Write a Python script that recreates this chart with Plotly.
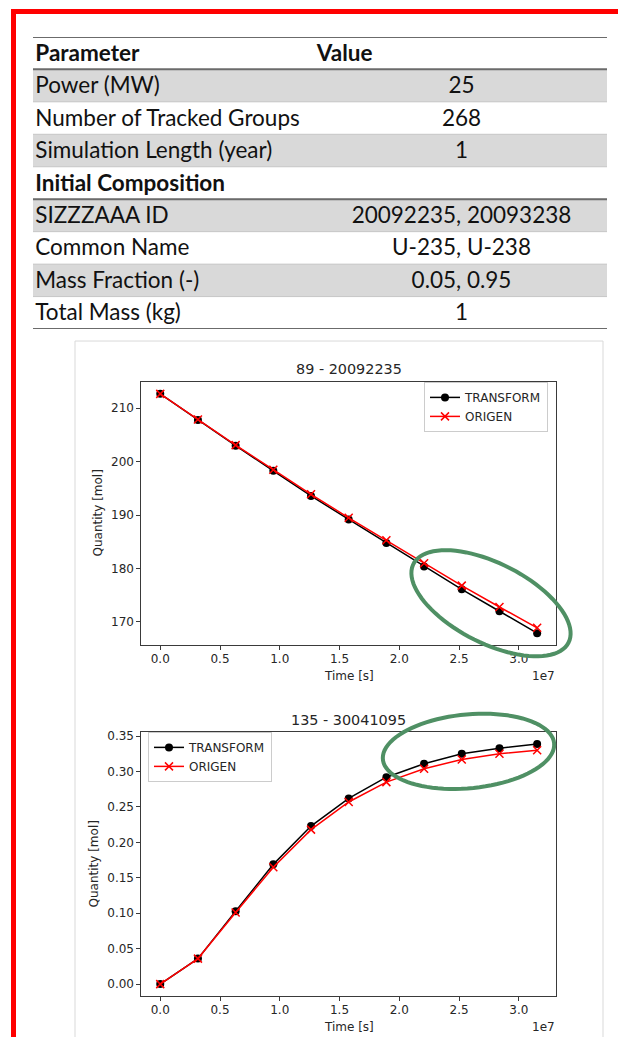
import numpy as np
import plotly.graph_objects as go

W, H = 618, 1037

# ---------------- data ----------------
table_header = ["Parameter", "Value"]
param_names = ["Power (MW)", "Number of Tracked Groups", "Simulation Length (year)",
               "Initial Composition", "SIZZZAAA ID", "Common Name",
               "Mass Fraction (-)", "Total Mass (kg)"]
param_values = ["25", "268", "1", "", "20092235, 20093238", "U-235, U-238",
                "0.05, 0.95", "1"]
row_bold = [False, False, False, True, False, False, False, False]
row_shaded = [True, False, True, False, True, False, True, False]

time_s = [0, 3153600, 6307200, 9460800, 12614400, 15768000, 18921600,
          22075200, 25228800, 28382400, 31536000]

title_1 = "89 - 20092235"
u235_transform = [212.7, 207.8, 203.0, 198.3, 193.6, 189.2, 184.8, 180.4, 176.1, 172.0, 167.9]
u235_origen = [212.7, 207.9, 203.1, 198.5, 193.9, 189.5, 185.3, 181.0, 176.8, 172.8, 168.9]

title_2 = "135 - 30041095"
nuc_transform = [0.0, 0.036, 0.103, 0.169, 0.223, 0.262, 0.292, 0.311, 0.325, 0.333, 0.339]
nuc_origen = [0.0, 0.036, 0.101, 0.165, 0.218, 0.257, 0.285, 0.304, 0.317, 0.325, 0.330]

x_tick_vals = [0, 0.5e7, 1.0e7, 1.5e7, 2.0e7, 2.5e7, 3.0e7]
x_tick_text = ["0.0", "0.5", "1.0", "1.5", "2.0", "2.5", "3.0"]
y1_tick_vals = [170, 180, 190, 200, 210]
y2_tick_vals = [0.0, 0.05, 0.10, 0.15, 0.20, 0.25, 0.30, 0.35]

series_names = ["TRANSFORM", "ORIGEN"]


# ---------------- helpers ----------------
def px(x):
    return x / W


def py(y):
    return 1 - y / H


def padded(vals, frac=0.05):
    lo, hi = min(vals), max(vals)
    span = hi - lo
    return [lo - frac * span, hi + frac * span]


MPL_FONT = "DejaVu Sans"
MPL_SIZE = 12
TXT = "#262626"
TABLE_FONT = "Lato"
TABLE_SIZE = 22.5
TEXT_DROP = 0.06  # vertical nudge of table text within a row (row units)

fig = go.Figure()

# ---------------- table (as bars + text on its own axes) ----------------
n_rows = len(param_names) + 1
row_idx = list(range(1, n_rows))
fig.add_trace(go.Bar(
    x=[1] * len(param_names), y=row_idx, orientation="h", base=0, width=1,
    marker=dict(color=["#d9d9d9" if s else "#ffffff" for s in row_shaded], line=dict(width=0)),
    xaxis="x3", yaxis="y3", showlegend=False, hoverinfo="skip"))

name_texts = [f"<b>{n}</b>" if b else n for n, b in zip(param_names, row_bold)]
fig.add_trace(go.Scatter(
    x=[0.004] * (n_rows), y=[r + TEXT_DROP for r in [0] + row_idx], mode="text",
    text=[f"<b>{table_header[0]}</b>"] + name_texts, textposition="middle right",
    textfont=dict(family=TABLE_FONT, size=TABLE_SIZE, color="#111111"),
    xaxis="x3", yaxis="y3", showlegend=False, hoverinfo="skip"))
fig.add_trace(go.Scatter(
    x=[0.4945], y=[0 + TEXT_DROP], mode="text", text=[f"<b>{table_header[1]}</b>"],
    textposition="middle right",
    textfont=dict(family=TABLE_FONT, size=TABLE_SIZE, color="#111111"),
    xaxis="x3", yaxis="y3", showlegend=False, hoverinfo="skip"))
fig.add_trace(go.Scatter(
    x=[0.7465] * len(param_values), y=[r + TEXT_DROP for r in row_idx], mode="text",
    text=param_values, textposition="middle center",
    textfont=dict(family=TABLE_FONT, size=TABLE_SIZE, color="#111111"),
    xaxis="x3", yaxis="y3", showlegend=False, hoverinfo="skip"))

# ---------------- charts ----------------
black_line = dict(color="black", width=1.5)
black_mark = dict(symbol="circle", size=8, color="black")
red_line = dict(color="#ff0000", width=1.5)
red_mark = dict(symbol="x-thin", size=8, color="#ff0000", line=dict(width=1.5, color="#ff0000"))

fig.add_trace(go.Scatter(x=time_s, y=u235_transform, name=series_names[0], mode="lines+markers",
                         line=black_line, marker=black_mark, xaxis="x", yaxis="y", legend="legend"))
fig.add_trace(go.Scatter(x=time_s, y=u235_origen, name=series_names[1], mode="lines+markers",
                         line=red_line, marker=red_mark, xaxis="x", yaxis="y", legend="legend"))
fig.add_trace(go.Scatter(x=time_s, y=nuc_transform, name=series_names[0], mode="lines+markers",
                         line=black_line, marker=black_mark, xaxis="x2", yaxis="y2", legend="legend2"))
fig.add_trace(go.Scatter(x=time_s, y=nuc_origen, name=series_names[1], mode="lines+markers",
                         line=red_line, marker=red_mark, xaxis="x2", yaxis="y2", legend="legend2"))

ax_common = dict(showline=True, linecolor="#3a3a3a", linewidth=1, mirror=True,
                 ticks="outside", ticklen=4, tickwidth=1, tickcolor="#3a3a3a",
                 showgrid=False, zeroline=False,
                 tickfont=dict(family=MPL_FONT, size=MPL_SIZE, color=TXT))
x_dom = [px(141.4), px(556)]
x_rng = padded(time_s)

layout = dict(
    width=W, height=H, autosize=False,
    margin=dict(l=0, r=0, t=0, b=0),
    paper_bgcolor="white", plot_bgcolor="white",
    bargap=0,
    xaxis=dict(domain=x_dom, anchor="y", range=x_rng, tickvals=x_tick_vals,
               ticktext=x_tick_text, ticklabelstandoff=-2, **ax_common),
    yaxis=dict(domain=[py(644), py(380)], anchor="x",
               range=padded(u235_transform + u235_origen), tickvals=y1_tick_vals, **ax_common),
    xaxis2=dict(domain=x_dom, anchor="y2", range=x_rng, tickvals=x_tick_vals,
                ticktext=x_tick_text, ticklabelstandoff=-2, **ax_common),
    yaxis2=dict(domain=[py(996), py(731)], anchor="x2",
                range=padded(nuc_transform + nuc_origen), tickvals=y2_tick_vals,
                tickformat=".2f", **ax_common),
    xaxis3=dict(domain=[px(33), px(607)], anchor="y3", range=[0, 1], visible=False,
                fixedrange=True),
    yaxis3=dict(domain=[py(327), py(34)], anchor="x3", range=[n_rows - 0.5, -0.5],
                visible=False, fixedrange=True),
    legend=dict(x=px(548), xanchor="right", y=py(380), yanchor="top",
                bgcolor="rgba(255,255,255,0.8)", bordercolor="#cccccc", borderwidth=1,
                font=dict(family=MPL_FONT, size=12, color=TXT), tracegroupgap=0),
    legend2=dict(x=px(148), xanchor="left", y=py(731), yanchor="top",
                 bgcolor="rgba(255,255,255,0.8)", bordercolor="#cccccc", borderwidth=1,
                 font=dict(family=MPL_FONT, size=12, color=TXT), tracegroupgap=0),
)
fig.update_layout(**layout)

# ---------------- annotations ----------------
ann = []
cx = (141.4 + 556) / 2
for ttl, ty in [(title_1, 367), (title_2, 719)]:
    ann.append(dict(text=ttl, x=px(cx), y=py(ty), xref="paper", yref="paper",
                    showarrow=False, xanchor="center", yanchor="middle",
                    font=dict(family=MPL_FONT, size=14.4, color=TXT)))
for ty in [675, 1027]:
    ann.append(dict(text="Time [s]", x=px(cx), y=py(ty), xref="paper", yref="paper",
                    showarrow=False, xanchor="center", yanchor="middle",
                    font=dict(family=MPL_FONT, size=MPL_SIZE, color=TXT)))
    ann.append(dict(text="1e7", x=px(543.5), y=py(ty), xref="paper", yref="paper",
                    showarrow=False, xanchor="center", yanchor="middle",
                    font=dict(family=MPL_FONT, size=MPL_SIZE, color=TXT)))
for tx, ty in [(98, 512), (94, 864)]:
    ann.append(dict(text="Quantity [mol]", x=px(tx), y=py(ty), xref="paper", yref="paper",
                    showarrow=False, xanchor="center", yanchor="middle", textangle=-90,
                    font=dict(family=MPL_FONT, size=MPL_SIZE, color=TXT)))
fig.update_layout(annotations=ann)

# ---------------- shapes ----------------
shapes = []
# red page border
shapes.append(dict(type="line", xref="paper", yref="paper", x0=px(11), x1=px(618),
                   y0=py(8.5), y1=py(8.5), line=dict(color="#ff0000", width=5)))
shapes.append(dict(type="line", xref="paper", yref="paper", x0=px(13.5), x1=px(13.5),
                   y0=py(6), y1=py(1040), line=dict(color="#ff0000", width=5)))
# light frame around the figure image
shapes.append(dict(type="rect", xref="paper", yref="paper", x0=px(75), x1=px(603),
                   y0=py(1045), y1=py(339), line=dict(color="#d9d9d9", width=1), layer="below"))
# table rules
for b in range(1, n_rows - 1):
    shapes.append(dict(type="line", xref="x3", yref="y3", x0=0, x1=1, y0=b + 0.5, y1=b + 0.5,
                       line=dict(color="#c8c8c8", width=1)))
for yb in [-0.5, 0.5, 4.5, n_rows - 0.5]:
    shapes.append(dict(type="line", xref="x3", yref="y3", x0=0, x1=1, y0=yb, y1=yb,
                       line=dict(color="#6b6b6b", width=2)))


# green hand-drawn ellipses (highlight)
def ellipse_path(cxp, cyp, a, b, ang_deg, n=90):
    t = np.linspace(0, 2 * np.pi, n)
    th = np.deg2rad(ang_deg)
    xs = cxp + a * np.cos(t) * np.cos(th) - b * np.sin(t) * np.sin(th)
    ys = cyp + a * np.cos(t) * np.sin(th) + b * np.sin(t) * np.cos(th)
    pts = [f"{px(x):.5f},{py(y):.5f}" for x, y in zip(xs, ys)]
    return "M " + " L ".join(pts) + " Z"


for (ecx, ecy, ea, eb, eang) in [(491, 602, 87, 40, 27), (468.5, 750.5, 86, 37, -5.4)]:
    shapes.append(dict(type="path", xref="paper", yref="paper",
                       path=ellipse_path(ecx, ecy, ea, eb, eang),
                       line=dict(color="#4f9064", width=4)))
fig.update_layout(shapes=shapes)

fig.write_html("out.html")
